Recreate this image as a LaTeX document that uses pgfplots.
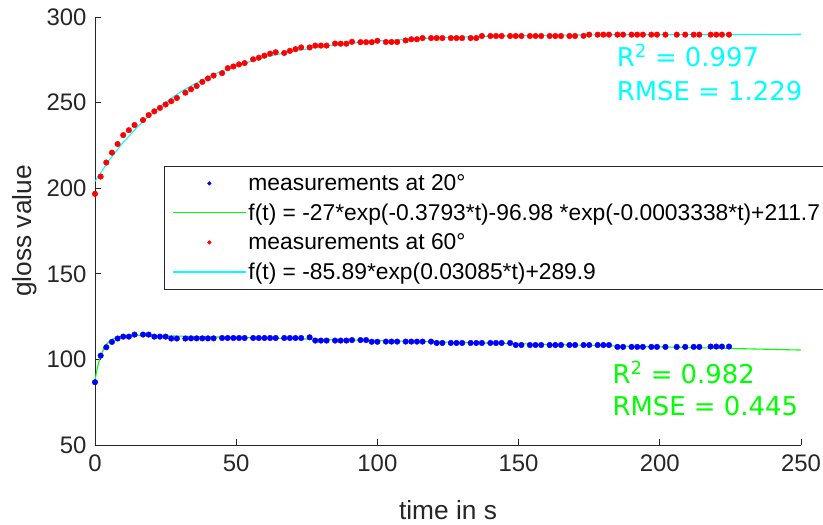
\documentclass[border=0pt]{standalone}
\usepackage{pgfplots}
\pgfplotsset{compat=1.18}
\usepackage{fontspec}
\setmainfont{Liberation Sans}
\newfontfamily\dejavu{DejaVu Sans}
\definecolor{axgray}{rgb}{0.15,0.15,0.15}
\definecolor{mblue}{rgb}{0,0,1}
\definecolor{mred}{rgb}{1,0,0}
\definecolor{mgreen}{rgb}{0,1,0}
\definecolor{mcyan}{rgb}{0,1,1}
\pgfplotsset{
  lineleg/.style={legend image code/.code={\draw[##1, line width=1.2bp] (0bp,0bp) -- (73bp,0bp);}},
  dotleg/.style={legend image code/.code={\draw[##1, mark size=1.8bp] plot coordinates {(36.5bp,0bp)};}},
}

\begin{document}
\begin{tikzpicture}
\begin{axis}[
    name=ax,
    width=706bp, height=428bp, scale only axis,
    xmin=0, xmax=250, ymin=50, ymax=300,
    axis lines*=left,
    axis line style={color=axgray, line width=0.8bp},
    tick align=inside, major tick length=6bp,
    tick style={color=axgray, line width=0.8bp},
    xtick={0,50,...,250}, ytick={50,100,...,300},
    /pgf/number format/assume math mode=true,
    tick label style={font=\fontsize{24}{28}\selectfont, color=axgray},
    xticklabel style={yshift=-6bp},
    yticklabel style={xshift=-5bp},
    label style={font=\fontsize{26.4}{30}\selectfont, color=axgray},
    xlabel={time in s}, ylabel={gloss value},
    xlabel style={at={(axis description cs:0.5,-0.152)}, anchor=center},
    ylabel style={at={(axis description cs:-0.099,0.5)}, anchor=center},
    clip=false,
    legend cell align=left,
    legend style={at={(rel axis cs:0.0977,0.651)}, anchor=north west,
        draw=axgray, line width=0.6bp, fill=white,
        font=\fontsize{22.9}{26}\selectfont, row sep=7.8bp,
        inner xsep=8bp, inner ysep=6bp},
]
% measurements at 20 deg
\addplot[only marks, mark=*, mark size=2.8bp, color=mblue, dotleg]
  coordinates {
(0,86.7)(2,102.2)(4,107.1)(6,110.2)(8,112.2)(10,113.3)(12,113.3)(14,114.5)(17,114.5)(19,114.5)
(21,113.3)(23,113.3)(25,113.3)(27,112.2)(29,112.2)(32,112.2)(34,112.3)(36,112.3)(38,112.3)(40,112.3)
(42,112.3)(45,112.5)(47,112.5)(49,112.5)(51,112.5)(53,112.5)(56,112.5)(58,112.5)(60,112.5)(62,112.5)
(64,112.5)(67,112.5)(69,112.5)(71,112.5)(73,112.5)(76,112.9)(78,111.0)(80,111.0)(82,111.0)(85,111.0)
(87,111.0)(89,111.0)(91,111.3)(94,111.3)(96,111.3)(98,110.3)(100,110.3)(103,110.4)(105,110.4)(107,110.4)
(110,110.4)(112,110.4)(114,110.4)(116,110.4)(119,110.4)(121,109.6)(123,109.6)(126,109.6)(128,109.6)(130,109.6)
(133,109.6)(135,109.6)(137,109.6)(140,109.6)(142,109.6)(144,109.6)(147,109.6)(149,108.4)(151,108.4)(154,108.4)
(156,108.4)(158,108.4)(161,108.4)(163,108.4)(165,108.4)(168,108.4)(170,108.4)(173,108.4)(175,108.4)(178,108.4)
(180,108.4)(182,108.4)(185,107.3)(187,107.3)(190,107.3)(192,107.3)(194,107.3)(197,107.3)(199,107.3)(202,107.3)
(206,107.3)(209,107.3)(212,107.3)(214,107.3)(218,107.5)(220,107.5)(222,107.5)(224.5,107.5)
  };
\addlegendentry{measurements at 20°}
% fit 20 deg
\addplot[color=mgreen, line width=1.1bp, no marks, lineleg]
  coordinates {
(0,87.7)(0.5,92.4)(1,96.2)(1.5,99.3)(2,102.0)(3,105.9)(4,108.6)(5,110.5)(6,111.7)(7,112.5)
(8,113.1)(10,113.7)(12,114.0)(15,114.1)(20,113.96)(30,113.6)(40,113.2)(50,112.85)(75,111.9)
(100,111.0)(125,110.1)(150,109.15)(175,108.2)(200,107.3)(225,106.4)(250,105.45)
  };
\addlegendentry{f(t) = -27*exp(-0.3793*t)-96.98 *exp(-0.0003338*t)+211.7}
% measurements at 60 deg
\addplot[only marks, mark=*, mark size=2.8bp, color=mred, dotleg]
  coordinates {
(0,196.7)(2,206.8)(4,215.0)(6,220.8)(8,225.8)(10,231.0)(12,233.9)(14,236.9)(17,239.8)(19,242.7)
(21,244.9)(23,246.9)(25,248.9)(27,250.8)(29,252.7)(32,255.8)(34,257.8)(36,259.7)(38,262.1)(40,264.1)
(42,265.8)(45,267.2)(47,270.1)(49,271.1)(51,272.3)(53,273.1)(56,275.3)(58,276.2)(60,277.4)(62,278.6)
(64,279.4)(67,279.0)(69,280.2)(71,281.2)(73,282.2)(76,282.2)(78,283.3)(80,283.3)(82,283.3)(85,284.5)
(87,284.4)(89,284.4)(91,285.5)(94,285.3)(96,285.3)(98,285.3)(100,286.1)(103,285.4)(105,285.4)(107,285.4)
(110,286.3)(112,287.0)(114,287.0)(116,287.7)(119,287.7)(121,287.7)(123,287.7)(126,287.7)(128,287.7)(130,287.7)
(133,287.7)(135,287.7)(137,288.9)(140,288.9)(142,288.9)(144,288.9)(147,288.9)(149,288.9)(151,288.9)(154,288.9)
(156,288.9)(158,288.9)(161,288.9)(163,288.9)(165,288.9)(168,288.9)(170,288.9)(173,289.0)(175,289.7)(178,289.7)
(180,289.7)(182,289.7)(185,289.7)(187,289.7)(190,289.7)(192,289.7)(194,289.7)(197,289.7)(199,289.7)(202,289.7)
(206,289.7)(209,289.7)(212,289.7)(214,289.7)(218,289.7)(220,289.7)(222,289.7)(224.5,289.7)
  };
\addlegendentry{measurements at 60°}
% fit 60 deg
\addplot[color=mcyan, line width=1.1bp, no marks, lineleg]
  coordinates {
(0,204.0)(5,216.3)(10,226.8)(15,235.8)(20,243.6)(25,250.2)(30,255.9)(35,260.7)(40,264.9)(45,268.5)
(50,271.5)(60,276.4)(70,280.0)(80,282.6)(90,284.6)(100,286.0)(120,287.8)(140,288.8)(160,289.3)(180,289.6)
(200,289.7)(250,289.9)
  };
\addlegendentry{f(t) = -85.89*exp(0.03085*t)+289.9}

\node[anchor=base west, font=\dejavu\fontsize{26}{30}\selectfont, text=mcyan, inner sep=0pt]
  at (axis cs:184.7,271.1) {R\textsuperscript{2} = 0.997};
\node[anchor=base west, font=\dejavu\fontsize{26}{30}\selectfont, text=mcyan, inner sep=0pt]
  at (axis cs:184.7,251.1) {RMSE = 1.229};
\node[anchor=base west, font=\dejavu\fontsize{26}{30}\selectfont, text=mgreen, inner sep=0pt]
  at (axis cs:183.2,86.1) {R\textsuperscript{2} = 0.982};
\node[anchor=base west, font=\dejavu\fontsize{26}{30}\selectfont, text=mgreen, inner sep=0pt]
  at (axis cs:183.2,67.0) {RMSE = 0.445};
\end{axis}
\pgfresetboundingbox
\path ([shift={(-95bp,-80bp)}]ax.south west) rectangle ([shift={(22bp,17bp)}]ax.north east);
\end{tikzpicture}
\end{document}
